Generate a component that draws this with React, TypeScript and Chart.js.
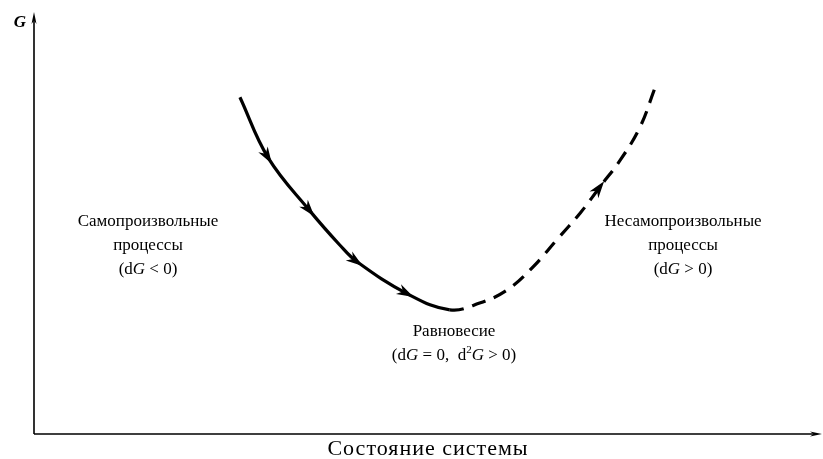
import React, { useEffect, useRef } from "react";
import { Chart, registerables } from "chart.js";

Chart.register(...registerables);

// System state (x) and Gibbs energy G (y), arbitrary units 0..100
const systemState = [26.2, 29.8, 35.1, 38.9, 41.1, 47.5, 52.9, 56.7, 60.2, 63.5, 66.5, 69.5, 72.0, 74.6, 77.1, 79.0];
const gibbsEnergy = [80.0, 65.6, 53.0, 44.9, 40.9, 33.3, 29.5, 31.1, 34.2, 39.7, 46.1, 52.5, 58.7, 65.1, 72.9, 82.2];
const equilibriumIndex = 6; // minimum: solid before, dashed after
const arrowIndices = [1, 2, 4, 5, 12];

const yAxisLabel = "G";
const xAxisLabel = "Состояние системы";
type Seg = { t: string; it?: boolean; sup?: boolean };
const leftLabel: Seg[][] = [[{ t: "Самопроизвольные" }], [{ t: "процессы" }], [{ t: "(d" }, { t: "G", it: true }, { t: " < 0)" }]];
const rightLabel: Seg[][] = [[{ t: "Несамопроизвольные" }], [{ t: "процессы" }], [{ t: "(d" }, { t: "G", it: true }, { t: " > 0)" }]];
const centerLabel: Seg[][] = [
  [{ t: "Равновесие" }],
  [{ t: "(d" }, { t: "G", it: true }, { t: " = 0,  d" }, { t: "2", sup: true }, { t: "G", it: true }, { t: " > 0)" }],
];

const FONT = '"Liberation Serif", "DejaVu Serif", serif';
const FS = 17;

function fontFor(s: Seg) {
  const size = s.sup ? 11 : FS;
  return `${s.it ? "italic " : ""}${size}px ${FONT}`;
}

function drawRich(ctx: CanvasRenderingContext2D, lines: Seg[][], cx: number, cy: number, lh: number) {
  ctx.textBaseline = "middle";
  ctx.textAlign = "left";
  lines.forEach((line, i) => {
    let w = 0;
    line.forEach((s) => {
      ctx.font = fontFor(s);
      w += ctx.measureText(s.t).width;
    });
    let x = cx - w / 2;
    const y = cy + i * lh;
    line.forEach((s) => {
      ctx.font = fontFor(s);
      ctx.fillText(s.t, x, s.sup ? y - 6 : y);
      x += ctx.measureText(s.t).width;
    });
  });
}

function arrowHead(ctx: CanvasRenderingContext2D, x: number, y: number, dx: number, dy: number, len: number, half: number) {
  const L = Math.hypot(dx, dy) || 1;
  const ux = dx / L, uy = dy / L;
  const px = -uy, py = ux;
  ctx.beginPath();
  ctx.moveTo(x, y);
  ctx.lineTo(x - ux * len + px * half, y - uy * len + py * half);
  ctx.lineTo(x - ux * len * 0.7, y - uy * len * 0.7);
  ctx.lineTo(x - ux * len - px * half, y - uy * len - py * half);
  ctx.closePath();
  ctx.fill();
}

const decorPlugin = {
  id: "decor",
  afterDraw(chart: any) {
    const ctx: CanvasRenderingContext2D = chart.ctx;
    const { left, bottom } = chart.chartArea;
    const xs = chart.scales.x, ys = chart.scales.y;
    ctx.save();
    ctx.fillStyle = "#000";
    ctx.strokeStyle = "#000";
    // axes
    ctx.lineWidth = 1.6;
    ctx.beginPath();
    ctx.moveTo(left, bottom);
    ctx.lineTo(left, 20);
    ctx.moveTo(left, bottom);
    ctx.lineTo(814, bottom);
    ctx.stroke();
    arrowHead(ctx, left, 12, 0, -1, 12, 2.5);
    arrowHead(ctx, 822, bottom, 1, 0, 12, 2.5);

    // arrowheads along the curve
    arrowIndices.forEach((i) => {
      const x = xs.getPixelForValue(systemState[i]);
      const y = ys.getPixelForValue(gibbsEnergy[i]);
      const x0 = xs.getPixelForValue(systemState[i - 1]);
      const y0 = ys.getPixelForValue(gibbsEnergy[i - 1]);
      const x1 = xs.getPixelForValue(systemState[i + 1]);
      const y1 = ys.getPixelForValue(gibbsEnergy[i + 1]);
      const dx = x1 - x0, dy = y1 - y0;
      const L = Math.hypot(dx, dy);
      arrowHead(ctx, x + (dx / L) * 7, y + (dy / L) * 7, dx, dy, 17, 5.5);
    });

    // texts
    ctx.font = `italic bold ${FS}px ${FONT}`;
    ctx.textAlign = "center";
    ctx.textBaseline = "middle";
    ctx.fillText(yAxisLabel, 20, 23);

    ctx.font = `22px ${FONT}`;
    (ctx as any).letterSpacing = "1px";
    ctx.fillText(xAxisLabel, 428, 449);
    (ctx as any).letterSpacing = "0px";

    drawRich(ctx, leftLabel, 148, 222, 24);
    drawRich(ctx, rightLabel, 683, 222, 24);
    drawRich(ctx, centerLabel, 454, 332, 24);
    ctx.restore();
  },
};

export default function App() {
  const ref = useRef<HTMLCanvasElement>(null);
  useEffect(() => {
    if (!ref.current) return;
    const chart = new Chart(ref.current, {
      type: "line",
      data: {
        datasets: [
          {
            data: systemState.map((x, i) => ({ x, y: gibbsEnergy[i] })),
            borderColor: "#000",
            borderWidth: 3.2,
            pointRadius: 0,
            tension: 0.4,
            segment: {
              borderDash: (c: any) => (c.p0DataIndex >= equilibriumIndex ? [14, 9] : undefined),
            },
          } as any,
        ],
      },
      options: {
        animation: false,
        responsive: false,
        layout: { padding: { left: 34, right: 3, top: 13, bottom: 25 } },
        plugins: { legend: { display: false }, tooltip: { enabled: false } },
        scales: {
          x: { type: "linear", min: 0, max: 100, display: false },
          y: { type: "linear", min: 0, max: 100, display: false },
        },
      },
      plugins: [decorPlugin],
    });
    return () => chart.destroy();
  }, []);
  return (
    <div style={{ position: "fixed", left: 0, top: 0, width: 823, height: 459, background: "#fff" }}>
      <canvas ref={ref} width={823} height={459} />
    </div>
  );
}
